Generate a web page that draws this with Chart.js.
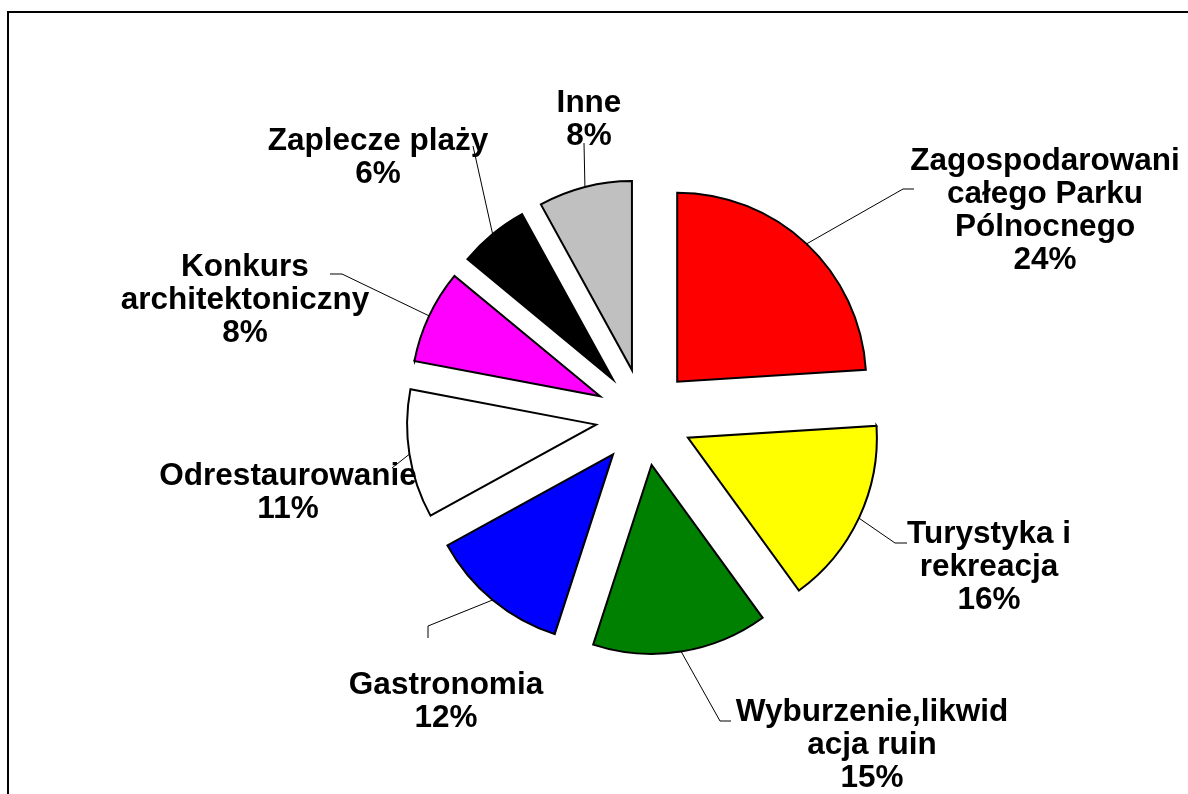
<!DOCTYPE html>
<html lang="pl">
<head>
<meta charset="utf-8">
<title>Struktura wydatków</title>
<script src="https://cdn.jsdelivr.net/npm/chart.js@4.4.1/dist/chart.umd.min.js"></script>
<style>
  html, body { margin: 0; padding: 0; background: #fff; overflow: hidden; }
  #wrap { position: relative; width: 1188px; height: 794px; }
  /* ramka wykresu – prawa i dolna krawędź wychodzą poza okno */
  #frame { position: absolute; left: 7px; top: 11px; width: 1300px; height: 900px; border: 2px solid #000; }
  #pie { position: absolute; left: 0; top: 0; }
</style>
</head>
<body>
<div id="wrap">
  <div id="frame"></div>
  <canvas id="pie" width="1188" height="794"></canvas>
</div>
<script>
// dane wykresu
const categories = [
  ["Zagospodarowani", "całego Parku", "Pólnocnego"],
  ["Turystyka i", "rekreacja"],
  ["Wyburzenie,likwid", "acja ruin"],
  ["Gastronomia"],
  ["Odrestaurowanie"],
  ["Konkurs", "architektoniczny"],
  ["Zaplecze plaży"],
  ["Inne"],
];
const shares = [24, 16, 15, 12, 11, 8, 6, 8];
const sliceColors = ["#FF0000", "#FFFF00", "#008000", "#0000FF", "#FFFFFF", "#FF00FF", "#000000", "#C0C0C0"];

// układ etykiet (środek tekstu, linia bazowa pierwszego wiersza) i końce linii odniesienia
const labelX = [1045, 989, 872, 446, 288, 245, 378, 589];
const labelY = [170, 543, 721, 694, 485, 276, 150, 112];
const leaderEnds = [
  [[903, 189], [914, 189]],
  [[895, 543], [907, 543]],
  [[720, 721], [731, 721]],
  [[428, 626], [428, 638]],
  [[392, 468]],
  [[342, 274], [330, 274]],
  [[473, 146]],
  [[584, 143]],
];

const EXPLODE = 48.5; // odsunięcie wycinków od środka
const LINE_H = 33;

// wysunięcie wszystkich wycinków (bez zmiany promienia, jak w Excelu)
const explodePlugin = {
  id: "explodePlugin",
  afterDatasetUpdate: (chart, args) => {
    args.meta.data.forEach((arc) => {
      const mid = (arc.startAngle + arc.endAngle) / 2;
      arc.x += Math.cos(mid) * EXPLODE;
      arc.y += Math.sin(mid) * EXPLODE;
    });
  },
};

// etykiety z liniami odniesienia
const labelPlugin = {
  id: "labelPlugin",
  afterDatasetsDraw: (chart) => {
    const ctx = chart.ctx;
    const arcs = chart.getDatasetMeta(0).data;
    ctx.save();

    ctx.strokeStyle = "#000";
    ctx.lineWidth = 1;
    arcs.forEach((arc, i) => {
      const mid = (arc.startAngle + arc.endAngle) / 2;
      ctx.beginPath();
      ctx.moveTo(arc.x + Math.cos(mid) * arc.outerRadius, arc.y + Math.sin(mid) * arc.outerRadius);
      leaderEnds[i].forEach(([x, y]) => ctx.lineTo(x, y));
      ctx.stroke();
    });

    ctx.font = 'bold 31.5px "Liberation Sans", Arial, sans-serif';
    ctx.fillStyle = "#000";
    ctx.textAlign = "center";
    ctx.textBaseline = "alphabetic";
    arcs.forEach((arc, i) => {
      const lines = [...categories[i], `${shares[i]}%`];
      lines.forEach((t, k) => ctx.fillText(t, labelX[i], labelY[i] + k * LINE_H));
    });

    ctx.restore();
  },
};

const chart = new Chart(document.getElementById("pie"), {
  type: "pie",
  data: {
    labels: categories.map((c) => c.join(" ")),
    datasets: [
      {
        data: shares,
        backgroundColor: sliceColors,
        borderColor: "#000",
        borderWidth: 2,
        borderJoinStyle: "miter",
      },
    ],
  },
  plugins: [explodePlugin, labelPlugin],
  options: {
    responsive: false,
    animation: false,
    radius: 189,
    layout: {
      padding: { left: 100, right: 0, top: 40, bottom: 0 }, // środek koła w (644, 417)
    },
    plugins: {
      legend: { display: false },
      tooltip: { enabled: false },
    },
    events: [],
  },
});
</script>
</body>
</html>
